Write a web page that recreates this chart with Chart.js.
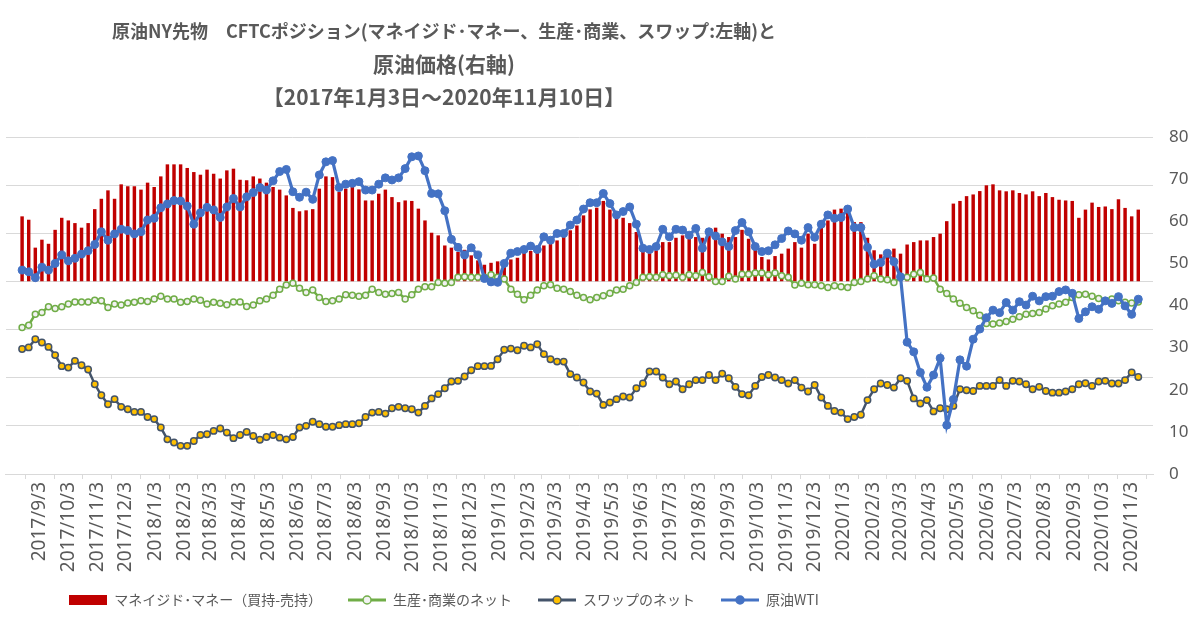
<!DOCTYPE html>
<html lang="ja">
<head>
<meta charset="utf-8">
<title>原油NY先物 CFTCポジション</title>
<script src="https://cdn.jsdelivr.net/npm/chart.js@4.4.1/dist/chart.umd.min.js"></script>
<style>
  html, body { margin: 0; padding: 0; background: #fff; }
  #wrap { position: relative; width: 1200px; height: 626px; }
</style>
</head>
<body>
<div id="wrap"><canvas id="chart"></canvas></div>
<script>
// 週次(火曜日)データ 2017/8/15 ～ 2020/11/10
const startDate = '2017/8/15';

// マネイジド・マネー（買持-売持） 千枚
const managedMoney = [
  269,255,139,172,155,213,263,252,241,222,241,299,342,377,342,402,394,394,380,409,391,435,485,485,485,470,453,442,463,446,
  426,460,467,421,419,435,426,409,391,380,356,304,290,294,299,384,435,432,370,384,398,381,335,335,363,380,349,328,335,
  333,301,252,201,190,148,139,121,130,107,86,68,76,82,86,90,97,118,125,128,148,155,169,186,211,231,273,298,305,
  333,297,269,263,241,204,135,116,128,162,162,180,190,176,183,180,197,222,197,183,183,213,176,135,100,90,104,114,135,162,
  139,197,155,252,252,297,301,300,245,245,180,128,111,100,135,114,152,162,169,169,183,197,249,322,333,353,360,374,398,
  402,377,373,377,366,360,373,353,366,349,338,335,333,263,297,326,308,310,299,340,304,269,297
];

// 生産・商業のネット 千枚
const producerNet = [
  -191,-182,-136,-129,-105,-112,-105,-94,-85,-85,-85,-78,-80,-108,-94,-98,-90,-87,-80,-83,-73,-62,-73,-73,-87,-83,-73,-78,-94,-87,
  -91,-97,-85,-85,-104,-98,-80,-73,-57,-32,-15,-8,-28,-46,-36,-67,-83,-80,-73,-55,-57,-62,-57,-32,-46,-53,-50,-46,-73,
  -55,-32,-22,-22,-4,-8,-4,17,19,17,17,17,28,17,10,-32,-53,-76,-57,-36,-18,-14,-28,-32,-42,-57,-67,-76,-67,
  -60,-49,-36,-32,-18,-4,17,19,17,28,24,26,17,28,24,37,19,0,0,21,10,30,30,35,35,28,35,24,17,-15,
  -8,-14,-14,-18,-25,-18,-22,-25,-4,0,10,24,10,7,-4,17,17,30,37,10,14,-32,-50,-73,-91,-108,-122,-140,-175,
  -177,-173,-166,-157,-147,-136,-133,-129,-115,-101,-94,-87,-67,-55,-53,-62,-71,-80,-73,-80,-87,-90,-85
];

// スワップのネット 千枚
const swapNet = [
  -281,-274,-240,-254,-272,-306,-352,-358,-330,-348,-366,-427,-473,-510,-489,-521,-531,-542,-542,-563,-572,-607,-656,-669,-683,-683,-663,-638,-635,-621,
  -611,-628,-651,-638,-625,-642,-658,-646,-638,-649,-656,-646,-607,-600,-583,-593,-604,-604,-597,-593,-593,-589,-563,-545,-542,-549,-527,-521,-527,
  -531,-545,-517,-486,-468,-444,-416,-413,-395,-369,-352,-352,-351,-323,-284,-279,-286,-267,-274,-261,-302,-323,-333,-333,-385,-399,-420,-457,-466,
  -513,-503,-489,-478,-482,-444,-424,-374,-374,-399,-427,-416,-448,-427,-410,-410,-389,-410,-383,-402,-438,-468,-473,-434,-397,-389,-399,-410,-424,-410,
  -441,-457,-430,-482,-517,-538,-545,-572,-563,-554,-493,-448,-424,-430,-441,-402,-413,-486,-507,-493,-540,-527,-531,-517,-448,-452,-455,-434,-434,
  -434,-410,-434,-413,-416,-427,-448,-438,-455,-462,-462,-457,-448,-427,-423,-434,-416,-413,-424,-424,-410,-378,-397
];

// 原油WTI ドル/バレル(右軸)
const wti = [
  48.4,48.0,46.6,49.1,48.4,50.0,52.0,50.6,51.2,52.2,53.0,54.5,57.5,55.5,57.0,58.1,57.8,57.0,57.5,60.3,60.7,63.2,64.1,64.9,64.8,63.6,59.3,62.0,63.3,62.7,
  60.9,63.4,65.4,63.4,65.8,66.8,68.0,67.4,69.6,71.8,72.3,67.0,65.7,66.9,65.2,71.0,74.1,74.4,68.0,68.8,69.0,69.4,67.4,67.4,68.8,70.3,69.8,70.3,72.5,
  75.3,75.5,72.0,66.6,66.5,62.5,55.7,53.8,52.0,53.7,52.0,46.4,45.6,45.5,50.0,52.4,52.8,53.3,54.1,53.3,56.3,55.5,57.1,57.1,59.1,60.3,62.9,64.4,64.4,
  66.6,64.2,61.5,62.3,63.4,59.3,53.6,53.3,54.0,58.1,56.3,58.1,57.9,56.7,58.3,53.6,57.5,56.5,55.1,54.0,57.8,59.7,57.5,54.0,52.8,53.0,54.4,55.9,57.7,57.0,
  55.5,58.5,56.2,59.3,61.5,60.7,60.9,62.9,58.5,58.5,53.8,49.8,50.2,52.4,50.4,46.8,31.3,29.0,24.1,20.6,23.5,27.5,11.6,17.7,27.1,25.6,32.0,34.4,37.1,
  38.9,38.3,40.7,38.9,40.9,40.1,42.2,41.1,42.1,42.2,43.3,43.7,42.9,36.9,38.5,39.7,39.1,41.1,40.5,42.1,39.9,37.9,41.5
];

const xTickLabels = [
  '2017/9/3','2017/10/3','2017/11/3','2017/12/3',
  '2018/1/3','2018/2/3','2018/3/3','2018/4/3','2018/5/3','2018/6/3','2018/7/3','2018/8/3','2018/9/3','2018/10/3','2018/11/3','2018/12/3',
  '2019/1/3','2019/2/3','2019/3/3','2019/4/3','2019/5/3','2019/6/3','2019/7/3','2019/8/3','2019/9/3','2019/10/3','2019/11/3','2019/12/3',
  '2020/1/3','2020/2/3','2020/3/3','2020/4/3','2020/5/3','2020/6/3','2020/7/3','2020/8/3','2020/9/3','2020/10/3','2020/11/3'
];

const seriesNames = ['マネイジド･マネー（買持-売持）', '生産･商業のネット', 'スワップのネット', '原油WTI'];

const titleLine = '原油NY先物　CFTCポジション(マネイジド･マネー、生産･商業、スワップ:左軸)と';
const subtitleLines = ['原油価格(右軸)', '【2017年1月3日～2020年11月10日】'];

// 日付 -> 通日(UTC)
function toDay(s) {
  const p = s.split('/').map(Number);
  return Date.UTC(p[0], p[1] - 1, p[2]) / 86400000;
}

const start = toDay(startDate);
const dates = wti.map((_, i) => start + 7 * i);
const xTickValues = xTickLabels.map(toDay);
const pts = arr => arr.map((v, i) => ({ x: dates[i], y: v }));

const FONT_JP = "'Noto Sans CJK JP', sans-serif";
const GRAY = '#595959';

// 凡例アイコン (線+マーカー)
function legendIcon(kind, line, fill, stroke) {
  const c = document.createElement('canvas');
  c.width = 38; c.height = 12;
  const g = c.getContext('2d');
  if (kind === 'bar') {
    g.fillStyle = fill;
    g.fillRect(0, 1, 38, 10);
  } else {
    g.strokeStyle = line; g.lineWidth = 3;
    g.beginPath(); g.moveTo(0, 6); g.lineTo(38, 6); g.stroke();
    g.beginPath(); g.arc(19, 6, 4, 0, Math.PI * 2);
    g.fillStyle = fill; g.fill();
    g.lineWidth = 1.5; g.strokeStyle = stroke; g.stroke();
  }
  return c;
}
const icons = [
  legendIcon('bar', null, '#c00000'),
  legendIcon('line', '#70ad47', '#f2f2f2', '#70ad47'),
  legendIcon('line', '#44546a', '#ffc000', '#44546a'),
  legendIcon('line', '#4472c4', '#4472c4', '#4472c4')
];

// タイトルと凡例は元グラフの中心(x=444)に揃える、凡例は少し上へ
const centerBoxes = {
  id: 'centerBoxes',
  afterLayout(chart) {
    const TitleClass = chart.titleBlock && chart.titleBlock.constructor;
    chart.boxes.forEach(b => {
      if (b === chart.legend || (TitleClass && b.constructor === TitleClass)) {
        b.left = 0; b.right = 888;
      }
    });
    if (chart.legend) {
      chart.legend.top = 567;
      chart.legend.bottom = 617;
    }
  }
};

new Chart(document.getElementById('chart'), {
  type: 'bar',
  data: {
    datasets: [
      {
        type: 'bar', label: seriesNames[0], data: pts(managedMoney), yAxisID: 'yL',
        backgroundColor: '#c00000', barThickness: 2.8, order: 4, clip: false
      },
      {
        type: 'line', label: seriesNames[1], data: pts(producerNet), yAxisID: 'yL',
        borderColor: '#70ad47', borderWidth: 2.5, tension: 0,
        pointRadius: 3, pointBackgroundColor: '#f2f2f2', pointBorderColor: '#70ad47', pointBorderWidth: 1.5,
        order: 3, clip: false
      },
      {
        type: 'line', label: seriesNames[2], data: pts(swapNet), yAxisID: 'yL',
        borderColor: '#44546a', borderWidth: 2.5, tension: 0,
        pointRadius: 3.2, pointBackgroundColor: '#ffc000', pointBorderColor: '#44546a', pointBorderWidth: 1.5,
        order: 2, clip: false
      },
      {
        type: 'line', label: seriesNames[3], data: pts(wti), yAxisID: 'yR',
        borderColor: '#4472c4', borderWidth: 3.2, tension: 0,
        pointRadius: 4, pointBackgroundColor: '#4472c4', pointBorderColor: '#4472c4', pointBorderWidth: 1,
        order: 1, clip: false
      }
    ]
  },
  options: {
    responsive: true,
    maintainAspectRatio: false,
    animation: false,
    devicePixelRatio: 1,
    layout: { padding: { left: 0, right: 0, top: 0, bottom: 0 } },
    plugins: {
      title: {
        display: true,
        text: titleLine,
        color: GRAY,
        font: { family: FONT_JP, size: 18, weight: 'bold', lineHeight: '33px' },
        padding: { top: 15, bottom: 0 }
      },
      subtitle: {
        display: true,
        text: subtitleLines,
        color: GRAY,
        font: { family: FONT_JP, size: 21, weight: 'bold', lineHeight: '33px' },
        padding: { top: 0, bottom: 23 }
      },
      legend: {
        position: 'bottom',
        labels: {
          usePointStyle: true,
          pointStyleWidth: 38,
          padding: 26,
          color: GRAY,
          font: { family: FONT_JP, size: 14 },
          generateLabels: () => seriesNames.map((t, i) => ({
            text: t, pointStyle: icons[i], datasetIndex: i, hidden: false,
            lineWidth: 0, fillStyle: 'transparent', strokeStyle: 'transparent', fontColor: GRAY
          }))
        }
      },
      tooltip: { enabled: false }
    },
    scales: {
      x: {
        type: 'linear',
        bounds: 'data',
        min: toDay('2017/8/13'),
        max: toDay('2020/11/10'),
        afterBuildTicks: s => { s.ticks = xTickValues.map(v => ({ value: v })); },
        afterFit: s => { s.height = 102; },
        grid: { drawOnChartArea: false, drawTicks: true, tickLength: 5, color: '#d9d9d9' },
        border: { display: true, color: '#d9d9d9' },
        ticks: {
          autoSkip: false, minRotation: 90, maxRotation: 90, padding: 3,
          color: GRAY, font: { family: "'Noto Sans', sans-serif", size: 19 },
          callback: (v, i) => xTickLabels[i]
        }
      },
      yL: {
        position: 'left',
        min: -800, max: 600,
        ticks: { display: false, stepSize: 200 },
        grid: { color: '#d9d9d9', drawTicks: false },
        border: { display: false },
        afterFit: s => { s.width = 0; }
      },
      yR: {
        position: 'right',
        min: 0, max: 80,
        ticks: { stepSize: 10, padding: 16, color: GRAY, font: { family: "'Noto Sans', sans-serif", size: 17 } },
        grid: { drawOnChartArea: false, drawTicks: false },
        border: { display: false },
        afterFit: s => { s.width = 47; }
      }
    }
  },
  plugins: [centerBoxes]
});
</script>
</body>
</html>
